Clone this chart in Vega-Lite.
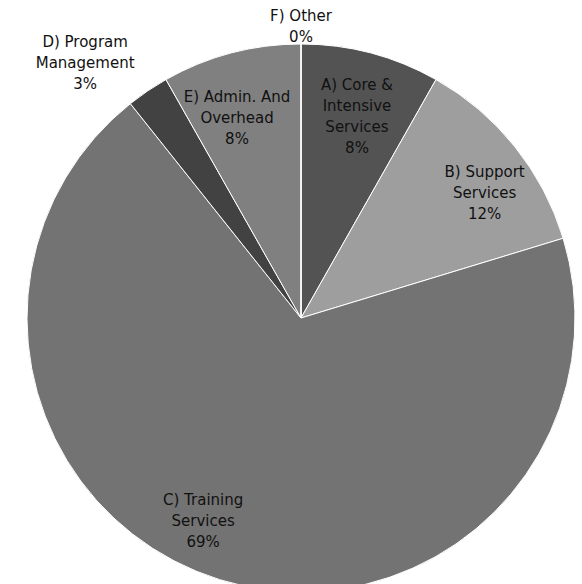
{
  "$schema": "https://vega.github.io/schema/vega-lite/v6.json",
  "autosize": "none",
  "width": 562,
  "height": 532,
  "padding": {"left": 20, "top": 52, "right": 0, "bottom": 0},
  "background": "white",
  "config": {"view": {"stroke": null}},
  "data": {
    "values": [
      {"key": "A", "category": "A) Core & Intensive Services", "value": 8.2, "lines": ["A) Core &", "Intensive", "Services", "8%"]},
      {"key": "B", "category": "B) Support Services", "value": 12.1, "lines": ["B) Support", "Services", "12%"]},
      {"key": "C", "category": "C) Training Services", "value": 69.0, "lines": ["C) Training", "Services", "69%"]},
      {"key": "D", "category": "D) Program Management", "value": 2.5, "lines": ["D) Program", "Management", "3%"]},
      {"key": "E", "category": "E) Admin. And Overhead", "value": 8.2, "lines": ["E) Admin. And", "Overhead", "8%"]},
      {"key": "F", "category": "F) Other", "value": 0, "lines": ["F) Other", "0%"]}
    ]
  },
  "encoding": {
    "theta": {"field": "value", "type": "quantitative", "stack": true},
    "order": {"field": "key", "type": "nominal", "sort": "ascending"}
  },
  "layer": [
    {
      "mark": {"type": "arc", "outerRadius": 274, "stroke": "white", "strokeWidth": 1},
      "encoding": {
        "color": {
          "field": "key",
          "type": "nominal",
          "scale": {"domain": ["A", "B", "C", "D", "E", "F"], "range": ["#535353", "#9e9e9e", "#737373", "#424242", "#808080", "#bdbdbd"]},
          "legend": null
        }
      }
    },
    {
      "mark": {"type": "text", "radius": 208, "dx": 3, "dy": -32, "font": "DejaVu Sans", "fontSize": 15, "lineHeight": 21, "color": "#111111", "align": "center", "baseline": "middle"},
      "encoding": {"text": {"condition": {"test": "datum.key === 'A'", "field": "lines"}, "value": ""}}
    },
    {
      "mark": {"type": "text", "radius": 208, "dx": -11, "dy": -20, "font": "DejaVu Sans", "fontSize": 15, "lineHeight": 21, "color": "#111111", "align": "center", "baseline": "middle"},
      "encoding": {"text": {"condition": {"test": "datum.key === 'E'", "field": "lines"}, "value": ""}}
    },
    {
      "mark": {"type": "text", "radius": 225, "dx": 8, "dy": -5, "font": "DejaVu Sans", "fontSize": 15, "lineHeight": 21, "color": "#111111", "align": "center", "baseline": "middle"},
      "encoding": {"text": {"condition": {"test": "datum.key === 'B'", "field": "lines"}, "value": ""}}
    },
    {
      "mark": {"type": "text", "radius": 225, "dx": -31, "dy": -33, "font": "DejaVu Sans", "fontSize": 15, "lineHeight": 21, "color": "#111111", "align": "center", "baseline": "middle"},
      "encoding": {"text": {"condition": {"test": "datum.key === 'C'", "field": "lines"}, "value": ""}}
    },
    {
      "mark": {"type": "text", "radius": 334, "dx": -29, "dy": 1, "font": "DejaVu Sans", "fontSize": 15, "lineHeight": 21, "color": "#111111", "align": "center", "baseline": "middle"},
      "encoding": {"text": {"condition": {"test": "datum.key === 'D'", "field": "lines"}, "value": ""}}
    },
    {
      "mark": {"type": "text", "radius": 291, "dy": -11, "font": "DejaVu Sans", "fontSize": 15, "lineHeight": 21, "color": "#111111", "align": "center", "baseline": "middle"},
      "encoding": {"text": {"condition": {"test": "datum.key === 'F'", "field": "lines"}, "value": ""}}
    }
  ]
}
